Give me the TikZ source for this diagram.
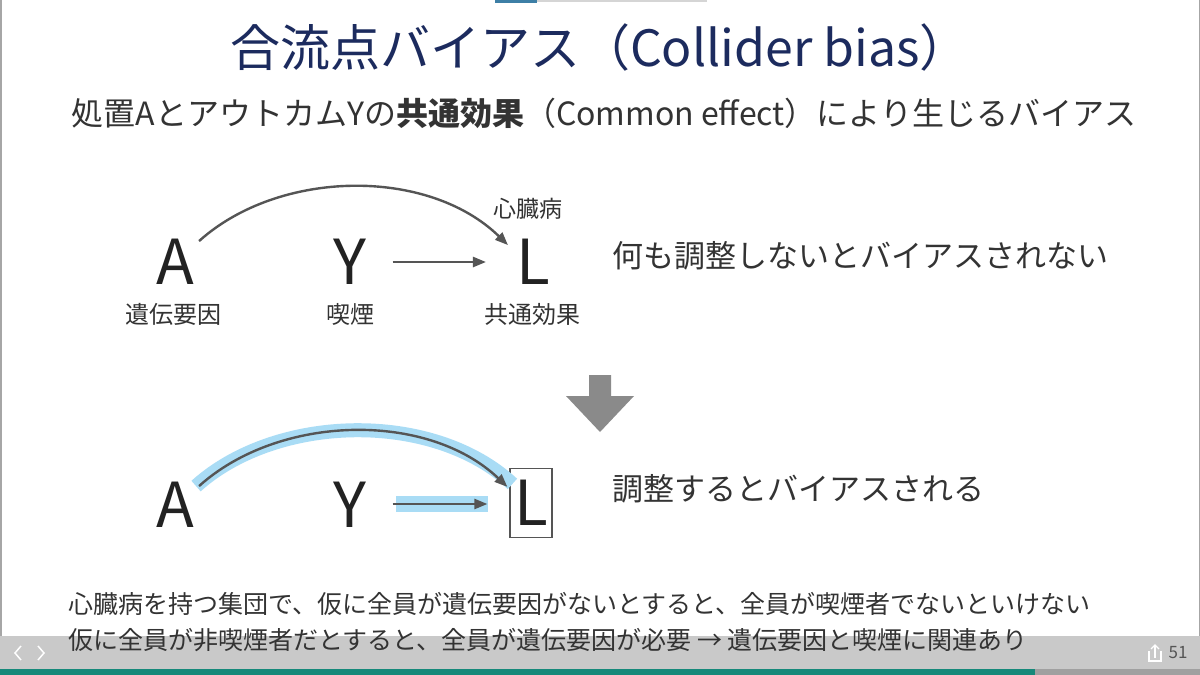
\documentclass[tikz,border=0pt]{standalone}
\usepackage{fontspec}
\setmainfont{Noto Sans CJK JP}
\usetikzlibrary{arrows.meta}
\definecolor{navy}{HTML}{1C2B5E}
\definecolor{txt}{HTML}{333333}
\definecolor{dark}{HTML}{222222}
\definecolor{arrgrey}{HTML}{555555}
\definecolor{hl}{HTML}{A9DCF5}
\definecolor{downgrey}{HTML}{8A8A8A}
\definecolor{barbg}{HTML}{C9C9C9}
\definecolor{teal}{HTML}{16897A}
\definecolor{topgrey}{HTML}{D5D5D5}
\definecolor{topblue}{HTML}{3D7FA6}
\definecolor{bargrey}{HTML}{A0A0A0}
\tikzset{
  fs/.style={font=\fontsize{#1}{#1}\selectfont},
  letter/.style={fs=62, text=dark, inner sep=0pt},
  lab/.style={fs=24, text=txt, inner sep=0pt},
  side/.style={fs=31, text=txt, inner sep=0pt, anchor=west},
  para/.style={fs=25, text=txt, inner sep=0pt, anchor=west},
  arr/.style={draw=arrgrey, line width=2.4pt, -{Triangle[length=13pt,width=10pt]}},
  hlline/.style={draw=hl, line width=14pt},
}
\begin{document}
\begin{tikzpicture}[x=1pt,y=-1pt]
\useasboundingbox (0,0) rectangle (1200,675);
\fill[white] (0,0) rectangle (1200,675);
% frame
\draw[line width=1.5pt, draw=gray!70] (0.75,0) -- (0.75,675);
\draw[line width=1.5pt, draw=gray!70] (1199.25,0) -- (1199.25,675);
% top indicator
\fill[topgrey] (537,0) rectangle (707,2);
\fill[topblue] (495,0) rectangle (537,2.5);

% title
\node[fs=50, text=navy, inner sep=0pt] (title) at (600,47) {合流点バイアス（Collider bias）};
\node[fs=32, text=txt, inner sep=0pt] (sub) at (604,113) {処置AとアウトカムYの\textbf{共通効果}（Common effect）により生じるバイアス};

% top diagram
\node[letter] (A1) at (175,262) {A};
\node[letter] (Y1) at (350,262) {Y};
\node[letter] (L1) at (533,262) {L};
\node[lab] (a1lab) at (173,314) {遺伝要因};
\node[lab] (y1lab) at (350,314) {喫煙};
\node[lab] (l1lab) at (532,314) {共通効果};
\node[fs=23, text=txt, inner sep=0pt] (heart) at (528,209) {心臓病};
\draw[arr] ([xshift=5pt,yshift=-2pt]A1.north east) .. controls +(80,-72) and +(-80,-78) .. ([xshift=-8pt,yshift=-6pt]L1.north west);
\draw[arr, shorten <=26pt, shorten >=30pt] (Y1.east) -- (L1.west |- Y1.east);
\node[side] (t1) at (612,256) {何も調整しないとバイアスされない};

% down arrow
\fill[downgrey] (589,375) -- (611,375) -- (611,396) -- (634,396) -- (600,432) -- (566,396) -- (589,396) -- cycle;

% bottom diagram
\node[letter] (A2) at (175,505) {A};
\node[letter] (Y2) at (350,505) {Y};
\node[letter, draw=arrgrey, line width=1.2pt, minimum width=42pt, minimum height=69pt] (L2) at (531,503) {L};
\draw[hlline] ([xshift=2pt,yshift=-4pt]A2.north east) .. controls +(80,-72) and +(-80,-74) .. ([xshift=3pt,yshift=-16pt]L2.north west);
\draw[arr] ([xshift=5pt,yshift=-4pt]A2.north east) .. controls +(80,-72) and +(-80,-76) .. ([xshift=-2pt,yshift=-19pt]L2.north west);
\fill[hl] (396,496) rectangle (488,512);
\draw[arr, shorten <=26pt, shorten >=22pt] (Y2.east |- 0,504) -- (L2.west |- 0,504);
\node[side] (t2) at (612,489) {調整するとバイアスされる};

% toolbar
\fill[barbg] (0,636) rectangle (1200,669);
\fill[bargrey] (0,669) rectangle (1200,675);
\fill[teal] (0,669) rectangle (1035,675);
\draw[white, line width=1.5pt] (21,646) -- (15,653) -- (21,660);
\draw[white, line width=1.5pt] (38,646) -- (44,653) -- (38,660);
\draw[white, line width=1.3pt] (1149,651) -- (1149,661) -- (1161,661) -- (1161,651);
\draw[white, line width=1.3pt] (1155,658) -- (1155,645);
\draw[white, line width=1.3pt] (1151,649) -- (1155,645) -- (1159,649);
\node[fs=17, text=arrgrey, inner sep=0pt] (page) at (1178,653) {51};

% bottom paragraph
\node[para] (p1) at (68,604) {心臓病を持つ集団で、仮に全員が遺伝要因がないとすると、全員が喫煙者でないといけない};
\node[para] (p2) at (68,640) {仮に全員が非喫煙者だとすると、全員が遺伝要因が必要 → 遺伝要因と喫煙に関連あり};
\end{tikzpicture}
\end{document}
